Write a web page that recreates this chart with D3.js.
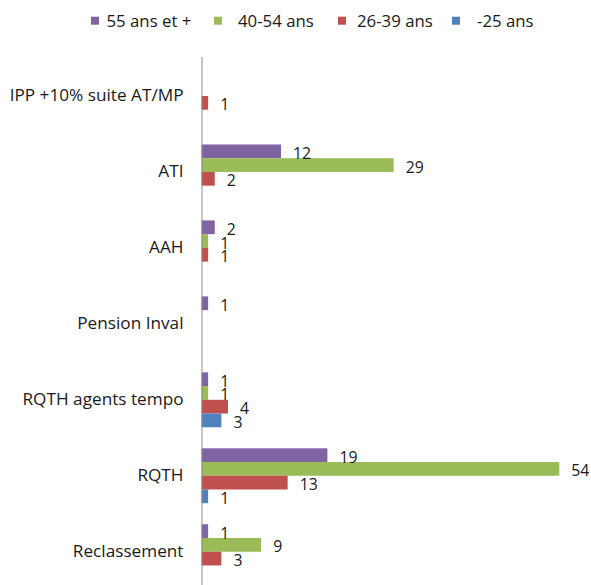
<!DOCTYPE html>
<html>
<head>
<meta charset="utf-8">
<script src="https://cdn.jsdelivr.net/npm/d3@7"></script>
<style>
  html, body { margin: 0; padding: 0; background: #fff; }
  svg { display: block; }
  text { font-family: "Open Sans", sans-serif; fill: #1a1a1a; }
</style>
</head>
<body>
<svg id="chart" width="591" height="585"></svg>
<script>
// Categories, top to bottom
const categories = [
  "IPP +10% suite AT/MP",
  "ATI",
  "AAH",
  "Pension Inval",
  "RQTH agents tempo",
  "RQTH",
  "Reclassement"
];

// Age groups (legend order)
const seriesNames = ["55 ans et +", "40-54 ans", "26-39 ans", "-25 ans"];
const seriesColors = ["#8064A2", "#9BBB59", "#C0504D", "#4F81BD"];

// Counts per age group, in category order
const values55plus = [0, 12, 2, 1, 1, 19, 1];
const values40to54 = [0, 29, 1, 0, 1, 54, 9];
const values26to39 = [1, 2, 1, 0, 4, 13, 3];
const valuesUnder25 = [0, 0, 0, 0, 3, 1, 0];

const seriesValues = [values55plus, values40to54, values26to39, valuesUnder25];

const svg = d3.select("#chart");

const plotTop = 58, plotBottom = 589.7;
const x0 = 201.5, x54 = 559.3;

const y = d3.scaleBand()
  .domain(categories)
  .range([plotTop, plotBottom])
  .paddingInner(0.277)
  .paddingOuter(0.1385);

const ySub = d3.scaleBand()
  .domain(seriesNames)
  .range([0, y.bandwidth()]);

const x = d3.scaleLinear()
  .domain([0, 54])
  .range([x0, x54]);

const cells = [];
categories.forEach((c, i) => {
  seriesNames.forEach((s, j) => {
    cells.push({ cat: c, series: s, color: seriesColors[j], value: seriesValues[j][i] });
  });
});
const shown = cells.filter(d => d.value > 0);

// Bars
const barG = svg.append("g");
barG.selectAll("rect")
  .data(shown)
  .join("rect")
  .attr("x", x(0))
  .attr("y", d => y(d.cat) + ySub(d.series))
  .attr("width", d => x(d.value) - x(0))
  .attr("height", ySub.bandwidth())
  .attr("fill", d => d.color);

// Value labels
barG.selectAll("text")
  .data(shown)
  .join("text")
  .attr("x", d => x(d.value) + 12)
  .attr("y", d => y(d.cat) + ySub(d.series) + ySub.bandwidth() / 2 + 1.5)
  .attr("dominant-baseline", "central")
  .style("font-size", "15.8px")
  .text(d => d.value);

// Category axis
const axis = d3.axisLeft(y).tickSize(0).tickPadding(18);
const axisG = svg.append("g")
  .attr("transform", `translate(${x0},0)`)
  .call(axis);
axisG.select(".domain").attr("stroke", "#8c8c8c").attr("stroke-width", 1)
  .attr("d", `M0.5,${plotTop - 1}V${plotBottom}`);
axisG.selectAll(".tick text")
  .style("font-family", "'Open Sans', sans-serif")
  .style("font-size", "17.2px")
  .attr("dy", "0.3em")
  .attr("fill", "#1a1a1a");

// Legend
const legendX = [91, 214, 338, 452];
const legendTextOffset = [15.5, 24, 19, 25];
const legend = svg.append("g").selectAll("g")
  .data(seriesNames)
  .join("g")
  .attr("transform", (d, i) => `translate(${legendX[i]},20.7)`);
legend.append("rect")
  .attr("x", 0).attr("y", -4).attr("width", 8).attr("height", 8)
  .attr("fill", (d, i) => seriesColors[i]);
legend.append("text")
  .attr("x", (d, i) => legendTextOffset[i])
  .attr("y", 0)
  .attr("dominant-baseline", "central")
  .style("font-size", "16.8px")
  .text(d => d);
</script>
</body>
</html>
